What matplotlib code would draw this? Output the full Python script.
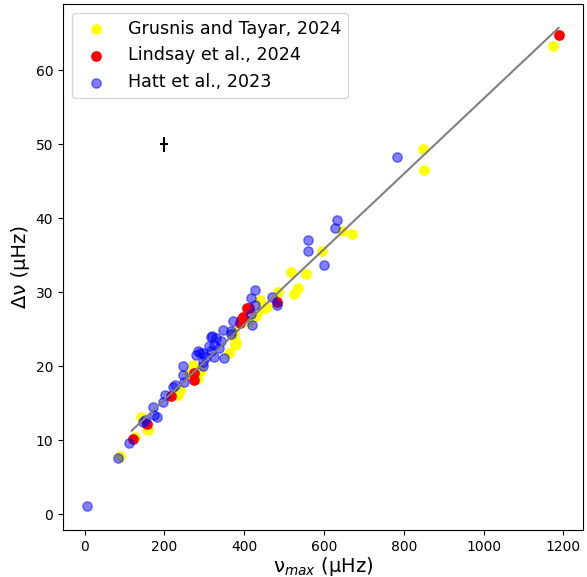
import numpy as np
import matplotlib
matplotlib.use('Agg')
import matplotlib.pyplot as plt

# Grusnis and Tayar, 2024
gt_numax = [88, 126, 141, 157, 160, 234, 238, 262, 271, 283, 292, 362, 376, 379, 374, 374,
            403, 412, 429, 444, 439, 457, 484, 517, 525, 534, 554, 596, 645, 669, 848, 851, 1175]
gt_dnu = [7.9, 10.4, 13.2, 11.7, 11.4, 16.1, 16.8, 19.0, 20.2, 18.4, 19.5, 21.8, 22.9, 23.1, 24.0, 24.6,
          26.1, 26.1, 26.8, 27.7, 29.0, 28.0, 30.0, 32.7, 29.7, 30.6, 32.5, 35.6, 38.2, 37.9, 49.3, 46.5, 63.3]

# Lindsay et al., 2024
li_numax = [122, 157, 216, 273, 275, 389, 393, 398, 406, 411, 482, 1190]
li_dnu = [10.2, 12.2, 16.0, 19.1, 18.2, 25.9, 26.2, 26.6, 27.8, 27.8, 28.7, 64.8]

# Hatt et al., 2023
ha_numax = [5, 83, 112, 147, 151, 172, 174, 182, 197, 201, 221, 226, 246, 250, 246, 280, 283,
            296, 296, 296, 304, 288, 325, 350, 312, 317, 337, 325, 341, 329, 317, 320, 366, 366,
            347, 372, 420, 418, 426, 417, 428, 469, 483, 560, 560, 599, 627, 632, 783]
ha_dnu = [1.1, 7.6, 9.6, 12.5, 12.7, 14.5, 13.4, 13.1, 15.2, 16.1, 17.2, 17.5, 18.8, 17.8, 20.0, 21.5, 22.0,
          20.0, 20.6, 21.8, 21.3, 21.8, 21.3, 21.1, 22.7, 22.0, 22.4, 22.9, 23.4, 23.8, 24.0, 24.1, 24.3, 24.7,
          24.9, 26.1, 25.5, 27.0, 28.3, 29.2, 30.3, 29.4, 28.3, 35.5, 37.1, 33.7, 38.7, 39.8, 48.2]

# fit line end points
fit_numax = [118, 1188]
fit_dnu = [11.3, 65.7]

# typical error bar
err_numax, err_dnu = 198, 50
err_x, err_y = 10, 1

fig = plt.figure(figsize=(5.87, 5.77), dpi=100)
ax = fig.add_axes([63 / 587, 47 / 577, 520 / 587, 526 / 577])

ax.scatter(gt_numax, gt_dnu, color='yellow', s=45, label='Grusnis and Tayar, 2024')
ax.scatter(li_numax, li_dnu, color='red', s=45, label='Lindsay et al., 2024')
ax.scatter(ha_numax, ha_dnu, color='blue', alpha=0.5, s=45, label='Hatt et al., 2023')
ax.plot(fit_numax, fit_dnu, color='gray', lw=1.5)
ax.errorbar(err_numax, err_dnu, xerr=err_x, yerr=err_y, fmt='none', ecolor='black', lw=1.5)

ax.set_xlabel('ν$_{max}$ (μHz)', fontsize=14, labelpad=1)
ax.set_ylabel('Δν (μHz)', fontsize=14)
ax.legend(loc='upper left', fontsize=12.6)

plt.savefig('out.png', dpi=100)
